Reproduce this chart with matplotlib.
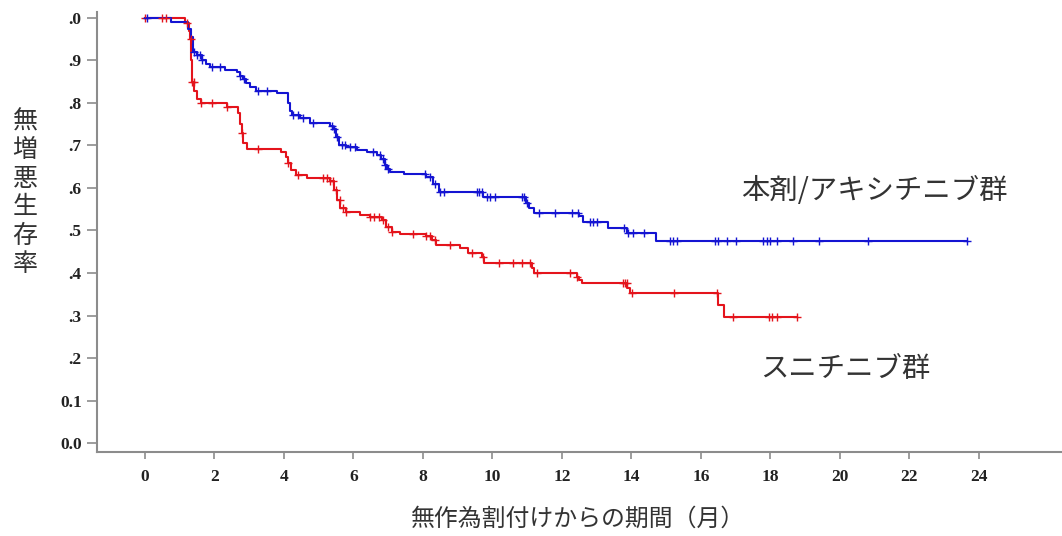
import numpy as np
import matplotlib.pyplot as plt

plt.rcParams["font.family"] = ["Noto Sans CJK JP", "DejaVu Sans"]

# =========================
# データ
# =========================

# 本剤/アキシチニブ群：イベント時点（月）と生存率
axi_t = [0, 0.75, 1.25, 1.32, 1.38, 1.5, 1.63, 1.75, 1.87, 2.3, 2.64, 2.73,
         2.82, 2.92, 3.02, 3.2, 3.79, 4.12, 4.18, 4.22, 4.46, 4.75, 5.32,
         5.42, 5.5, 5.58, 5.8, 6.1, 6.4, 6.67, 6.8, 6.9, 6.96, 7.05, 7.45,
         8.1, 8.3, 8.45, 9.74, 10.98, 11.05, 11.2, 12.5, 12.6, 13.33, 13.86,
         14.72]
axi_s = [1.0, 0.991, 0.975, 0.955, 0.92, 0.912, 0.901, 0.892, 0.884, 0.878,
         0.872, 0.864, 0.856, 0.846, 0.838, 0.829, 0.823, 0.80, 0.78, 0.772,
         0.764, 0.752, 0.746, 0.738, 0.72, 0.701, 0.696, 0.689, 0.684, 0.678,
         0.668, 0.655, 0.645, 0.638, 0.632, 0.625, 0.61, 0.591, 0.578, 0.564,
         0.552, 0.542, 0.533, 0.521, 0.505, 0.493, 0.476]
axi_end = 23.65
axi_cens = [0.05, 1.42, 1.5, 1.58, 1.65, 1.92, 2.16, 2.75, 2.85, 3.25, 3.5,
            4.25, 4.4, 4.55, 4.84, 5.37, 5.45, 5.52, 5.66, 5.75, 5.9, 6.04,
            6.55, 6.76, 6.85, 6.92, 6.99, 8.06, 8.2, 8.35, 8.5, 8.6, 9.55,
            9.62, 9.7, 9.84, 9.93, 10.07, 10.85, 10.92, 10.99, 11.35, 11.8,
            12.3, 12.45, 12.8, 12.9, 13.0, 13.8, 13.9, 14.05, 14.35, 15.1,
            15.2, 15.3, 16.4, 16.5, 16.75, 17.0, 17.8, 17.9, 18.0, 18.2,
            18.65, 19.4, 20.8, 23.65]

# スニチニブ群
sun_t = [0, 1.15, 1.27, 1.3, 1.33, 1.36, 1.42, 1.49, 1.6, 2.35, 2.68, 2.74,
         2.78, 2.83, 2.93, 3.93, 4.05, 4.12, 4.2, 4.36, 4.65, 5.32, 5.45,
         5.52, 5.62, 5.8, 6.19, 6.47, 6.81, 6.95, 7.1, 7.34, 8.1, 8.25, 8.38,
         9.07, 9.3, 9.69, 9.75, 11.13, 11.19, 12.42, 12.5, 12.57, 13.88,
         13.96, 16.5, 16.66]
sun_s = [1.0, 0.988, 0.97, 0.95, 0.90, 0.85, 0.827, 0.809, 0.799, 0.790,
         0.776, 0.75, 0.729, 0.705, 0.691, 0.685, 0.674, 0.658, 0.642, 0.631,
         0.623, 0.617, 0.595, 0.572, 0.552, 0.544, 0.536, 0.531, 0.525, 0.509,
         0.497, 0.492, 0.486, 0.478, 0.466, 0.458, 0.446, 0.437, 0.423, 0.411,
         0.401, 0.391, 0.384, 0.376, 0.364, 0.352, 0.325, 0.296]
sun_end = 18.76
sun_cens = [0.0, 0.48, 0.62, 1.2, 1.32, 1.36, 1.4, 1.6, 1.92, 2.35, 2.78,
            3.26, 4.12, 4.41, 5.13, 5.23, 5.32, 5.42, 5.5, 5.6, 5.7, 5.8,
            6.47, 6.6, 6.75, 6.85, 7.0, 7.1, 7.7, 8.1, 8.2, 8.35, 8.78, 9.4,
            9.73, 10.2, 10.6, 10.85, 11.08, 11.28, 12.23, 12.43, 13.75,
            13.82, 13.87, 14.01, 15.22, 16.46, 16.92, 17.95, 18.05, 18.2,
            18.76]

y_ticks = [0.0, 0.1, 0.2, 0.3, 0.4, 0.5, 0.6, 0.7, 0.8, 0.9, 1.0]
y_labels = ["0.0", "0.1", ".2", ".3", ".4", ".5", ".6", ".7", ".8", ".9", ".0"]
x_ticks = [0, 2, 4, 6, 8, 10, 12, 14, 16, 18, 20, 22, 24]

label_axi = "本剤/アキシチニブ群"
label_sun = "スニチニブ群"
x_title = "無作為割付けからの期間（月）"
y_title = "無増悪生存率"


# =========================
# 描画
# =========================

fig = plt.figure(figsize=(10.62, 5.36), dpi=100)
ax = fig.add_axes([0.0913, 0.1567, 0.9087, 0.821])


def draw_km(t, s, end, cens, color):
    t = np.asarray(t)
    s = np.asarray(s)
    ax.step(np.r_[t, end], np.r_[s, s[-1]], where="post",
            color=color, lw=1.5, zorder=3)
    idx = np.searchsorted(t, cens, side="right") - 1
    ax.plot(cens, s[idx], ls="none", marker="+", ms=6, mew=1.0,
            color=color, zorder=4)


draw_km(sun_t, sun_s, sun_end, sun_cens, "#e4141c")
draw_km(axi_t, axi_s, axi_end, axi_cens, "#1414d2")

ax.set_xlim(-1.38, 26.39)
ax.set_ylim(-0.021, 1.014)

for side in ["top", "right"]:
    ax.spines[side].set_visible(False)
for side in ["left", "bottom"]:
    ax.spines[side].set_color("#8c8c8c")
    ax.spines[side].set_linewidth(1.5)

tick_font = dict(family="Liberation Serif", weight="bold", size=12.5)

ax.set_yticks(y_ticks)
ax.set_yticklabels(y_labels, fontdict=tick_font)
ax.set_xticks(x_ticks)
ax.set_xticklabels([str(v) for v in x_ticks], fontdict=tick_font)

ax.tick_params(axis="y", length=7, width=1.2, color="#8c8c8c", pad=4,
               labelcolor="#222222")
ax.tick_params(axis="x", length=5, width=1.2, color="#8c8c8c", pad=7,
               labelcolor="#222222")

# 軸タイトル
fig.text(578 / 1062, 1 - 519 / 536, x_title, ha="center", va="center",
         fontsize=17.2, color="#333333")
fig.text(25 / 1062, 1 - 193 / 536, "\n".join(y_title), ha="center",
         va="center", fontsize=18, color="#333333", linespacing=1.12)

# 群ラベル
ax.text(21.0, 0.592, label_axi, ha="center", va="center",
        fontsize=20.4, color="#333333")
ax.text(20.14, 0.174, label_sun, ha="center", va="center",
        fontsize=20.4, color="#333333")

fig.savefig("out.png", dpi=100)
